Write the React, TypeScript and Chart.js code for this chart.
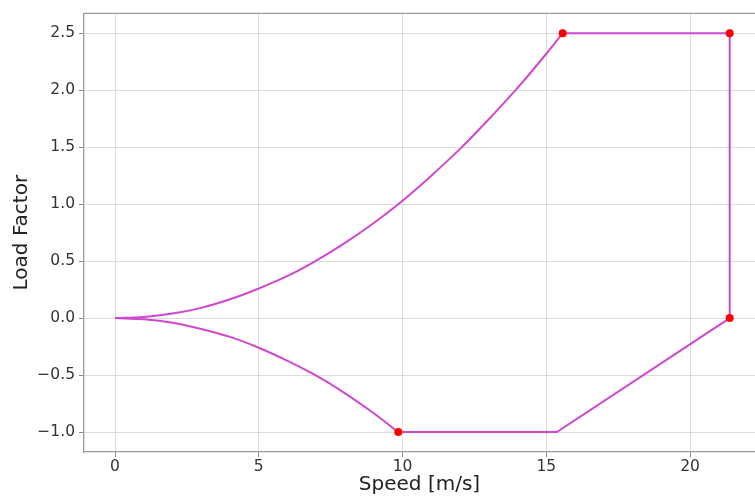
import React, { useEffect, useRef } from "react";
import { Chart, registerables } from "chart.js";

Chart.register(...registerables);

// Upper (positive) stall curve
const upperSpeed = [0, 1, 2, 3, 4, 5, 6, 7, 8, 9, 10, 11, 12, 13, 14, 15, 15.57];
const upperLoad = [0, 0.01, 0.04, 0.09, 0.165, 0.26, 0.37, 0.505, 0.66, 0.835, 1.03, 1.25, 1.485, 1.745, 2.02, 2.32, 2.5];

// Lower (negative) stall curve
const lowerSpeed = [0, 1, 2, 3, 4, 5, 6, 7, 8, 9, 9.85];
const lowerLoad = [0, -0.01, -0.04, -0.095, -0.165, -0.26, -0.375, -0.505, -0.66, -0.835, -1.0];

// Straight envelope segments: top, right side, lower-right diagonal, bottom
const envelopeSpeed = [15.57, 21.38, 21.38, 15.37, 9.85];
const envelopeLoad = [2.5, 2.5, 0, -1.0, -1.0];

// Corner markers
const cornerSpeed = [15.57, 21.38, 21.38, 9.85];
const cornerLoad = [2.5, 2.5, 0, -1.0];

const xTicks = [0, 5, 10, 15, 20];
const yTicks = [-1.0, -0.5, 0.0, 0.5, 1.0, 1.5, 2.0, 2.5];

const LINE = "#d048d0";
const FONT = "'DejaVu Sans', sans-serif";

const toPts = (xs: number[], ys: number[]) => xs.map((x, i) => ({ x, y: ys[i] }));

const topSpine = {
  id: "topSpine",
  afterDraw(chart: any) {
    const { ctx, chartArea } = chart;
    ctx.save();
    ctx.strokeStyle = "#9a9a9a";
    ctx.lineWidth = 1.3;
    ctx.beginPath();
    ctx.moveTo(chartArea.left, chartArea.top);
    ctx.lineTo(chartArea.right, chartArea.top);
    ctx.stroke();
    ctx.restore();
  },
};

export default function App() {
  const ref = useRef<HTMLCanvasElement | null>(null);

  useEffect(() => {
    if (!ref.current) return;
    const lineDs = (data: any, cubic: boolean) => ({
      data,
      showLine: true,
      borderColor: LINE,
      backgroundColor: LINE,
      borderWidth: 2,
      pointRadius: 0,
      tension: cubic ? 0.4 : 0,
      cubicInterpolationMode: cubic ? "monotone" : "default",
      order: 2,
    });
    const chart = new Chart(ref.current, {
      type: "scatter",
      data: {
        datasets: [
          {
            data: toPts(cornerSpeed, cornerLoad),
            showLine: false,
            pointRadius: 4,
            pointBackgroundColor: "#ff0000",
            pointBorderColor: "#ff0000",
            pointBorderWidth: 0,
            order: 0,
          } as any,
          lineDs(toPts(upperSpeed, upperLoad), true),
          lineDs(toPts(lowerSpeed, lowerLoad), true),
          lineDs(toPts(envelopeSpeed, envelopeLoad), false),
        ],
      },
      options: {
        animation: false,
        responsive: false,
        devicePixelRatio: 1,
        layout: { padding: { top: 12, right: 0, left: 0, bottom: 0 } },
        plugins: { legend: { display: false }, tooltip: { enabled: false } },
        scales: {
          x: {
            type: "linear",
            min: -1.08,
            max: 22.26,
            afterFit: (s: any) => {
              s.height = 45;
            },
            afterBuildTicks: (s: any) => {
              s.ticks = xTicks.map((v) => ({ value: v }));
            },
            ticks: {
              color: "#333",
              font: { family: FONT, size: 15.5 },
              padding: 1,
              maxRotation: 0,
              callback: (v: any) => String(v),
            },
            grid: { color: "#dcdcdc", lineWidth: 1, tickLength: 5, tickColor: "#888" },
            border: { display: true, color: "#9a9a9a", width: 1.3 },
            title: {
              display: true,
              text: "Speed [m/s]",
              color: "#222",
              font: { family: FONT, size: 20 },
              padding: { top: 0, bottom: 0 },
            },
          },
          y: {
            type: "linear",
            min: -1.175,
            max: 2.675,
            afterFit: (s: any) => {
              s.width = 84;
            },
            afterBuildTicks: (s: any) => {
              s.ticks = yTicks.map((v) => ({ value: v }));
            },
            ticks: {
              color: "#333",
              font: { family: FONT, size: 15.5 },
              padding: 4,
              callback: (v: any) => Number(v).toFixed(1).replace("-", "\u2212"),
            },
            grid: { color: "#dcdcdc", lineWidth: 1, tickLength: 5, tickColor: "#888" },
            border: { display: true, color: "#9a9a9a", width: 1.3 },
            title: {
              display: true,
              text: "Load Factor",
              color: "#222",
              font: { family: FONT, size: 20 },
              padding: { top: 10, bottom: 0 },
            },
          },
        },
      },
      plugins: [topSpine],
    } as any);
    return () => chart.destroy();
  }, []);

  return (
    <div style={{ position: "fixed", left: 0, top: 0, width: 755, height: 497, background: "#fff", overflow: "hidden" }}>
      <canvas ref={ref} width={759} height={497} style={{ width: 759, height: 497, display: "block" }} />
    </div>
  );
}
